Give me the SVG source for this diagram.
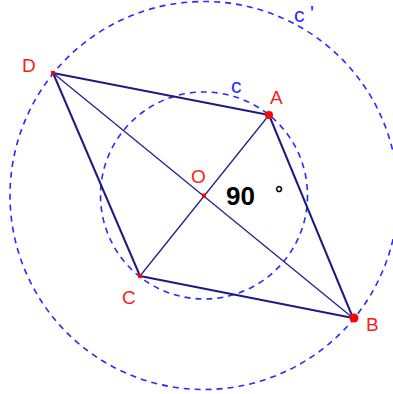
<svg xmlns="http://www.w3.org/2000/svg" width="393" height="394" viewBox="0 0 393 394">
<style>
.circ{fill:none;stroke:#2a2aff;stroke-width:1.6;stroke-dasharray:6,5}
.edge{stroke:#1c1c80;stroke-width:2;fill:none}
.diag{stroke:#22228a;stroke-width:1.3;fill:none}
.lbl{font-family:"Liberation Sans",Arial,sans-serif;font-size:19px;fill:#ff1a1a}
.clbl{font-family:"Liberation Sans",Arial,sans-serif;font-size:21px;fill:#2a2aff}
.pt{fill:#ff0000}
</style>
<rect width="393" height="394" fill="#ffffff"/>
<g id="circles">
<circle id="c-prime" class="circ" cx="204" cy="195.5" r="194"/>
<circle id="c" class="circ" cx="204" cy="195.5" r="103.5"/>
</g>
<g id="connectors">
<line class="edge" x1="53" y1="73" x2="269" y2="115"/>
<line class="edge" x1="269" y1="115" x2="353" y2="318"/>
<line class="edge" x1="353" y1="318" x2="140" y2="276"/>
<line class="edge" x1="140" y1="276" x2="53" y2="73"/>
<line class="diag" x1="53" y1="73" x2="353" y2="318"/>
<line class="diag" x1="269" y1="115" x2="140" y2="276"/>
</g>
<g id="D"><rect class="pt" x="51" y="71" width="4" height="4"/><text class="lbl" x="22" y="72">D</text></g>
<g id="A"><circle class="pt" cx="269" cy="115" r="4"/><text class="lbl" x="270" y="104">A</text></g>
<g id="B"><circle class="pt" cx="354" cy="318" r="4.5"/><text class="lbl" x="366" y="331">B</text></g>
<g id="C"><rect class="pt" x="138" y="274" width="4" height="4"/><text class="lbl" x="122" y="304">C</text></g>
<g id="O"><rect class="pt" x="202" y="193.5" width="4" height="4"/><text class="lbl" x="191" y="183">O</text></g>
<g id="angle"><text x="226" y="205" font-family="Liberation Sans,Arial,sans-serif" font-size="26" font-weight="bold" fill="#000">90</text><text x="275" y="200" font-family="Liberation Sans,Arial,sans-serif" font-size="20" font-weight="bold" fill="#000">°</text></g>
<g id="label-c"><text class="clbl" x="231" y="93">c</text></g>
<g id="label-cp"><text class="clbl" x="294" y="22">c</text><text class="clbl" x="310" y="20" font-size="16">'</text></g>
</svg>
